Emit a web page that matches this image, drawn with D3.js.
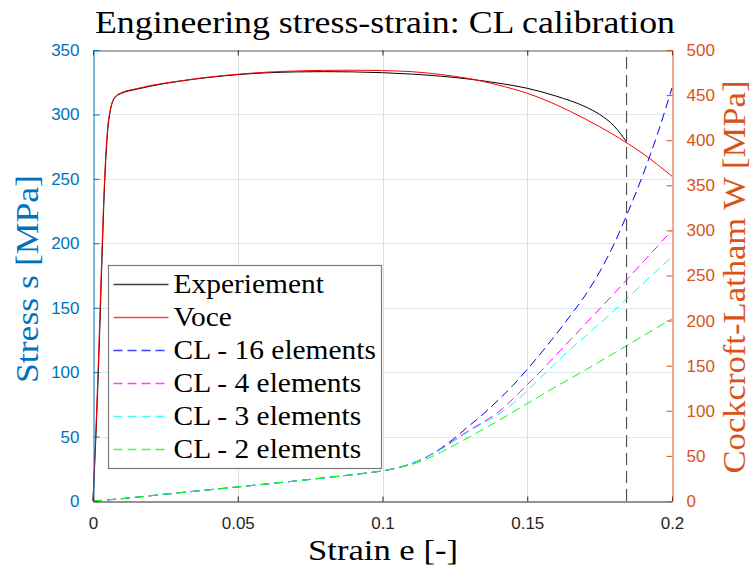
<!DOCTYPE html>
<html>
<head>
<meta charset="utf-8">
<script src="https://cdn.jsdelivr.net/npm/d3@7"></script>
<style>
  html, body { margin: 0; padding: 0; background: #fff; }
  svg { display: block; }
</style>
</head>
<body>
<svg id="chart" width="752" height="570"></svg>
<script>
// ---- Data -------------------------------------------------------------
// Engineering stress-strain curves (left axis, MPa)
const expStrain = [0,0.001,0.002,0.003,0.004,0.005,0.006,0.007,0.008,0.01,0.015,0.02,0.03,0.04,0.05,0.06,0.07,0.08,0.09,0.1,0.11,0.12,0.13,0.14,0.15,0.16,0.17,0.175,0.18,0.1843];
const expStress = [0,50,110,180,245,285,303,311,314,316.5,319.5,322,325.8,328.7,330.9,332.3,333.0,333.2,333.0,332.4,331.3,329.7,327.4,324.3,320.3,314.2,306,300,291,278.8];

const voceStrain = [0,0.001,0.002,0.003,0.004,0.005,0.006,0.007,0.008,0.01,0.015,0.02,0.03,0.04,0.05,0.06,0.07,0.08,0.09,0.1,0.11,0.12,0.13,0.14,0.15,0.16,0.17,0.18,0.19,0.2];
const voceStress = [0,55,118,188,250,288,304,311.5,314.5,317,320,322.5,326,329,331.2,332.8,333.7,334.2,334.3,334.0,333.2,331.0,327.8,322.8,316.4,307.5,296.5,284,269.5,252];

// Cockcroft-Latham damage integral W (right axis, MPa)
const clStrain = [0,0.01,0.02,0.03,0.04,0.05,0.06,0.07,0.08,0.09,0.095,0.1,0.105,0.11,0.115,0.12,0.125,0.13,0.135,0.14,0.145,0.15,0.155,0.16,0.165,0.17,0.175,0.18,0.185,0.19,0.195,0.2];
const cl16 = [0,2.6,5.9,9.2,12.4,15.6,18.9,22.2,25.7,29.3,31.2,33.4,36.6,41.5,48.5,58,70,83.5,97,112,128,146,165,185,206,228,254,285,322,362,407,458];
const cl4  = [0,2.6,5.9,9.2,12.4,15.6,18.9,22.2,25.7,29.3,31.2,33.4,36.6,41.5,48.3,57.2,68,78.5,88,98.5,113,129,145,162,179,196,213,230,247.5,265,282.5,300];
const cl3  = [0,2.6,5.9,9.2,12.4,15.6,18.9,22.2,25.7,29.3,31.2,33.4,36.6,41.5,48.3,57,67.2,77.5,86.5,96,108,122,138,153.5,168.5,182.5,196.5,211,226,241,256,271];
const cl2  = [0,2.6,5.9,9.2,12.4,15.6,18.9,22.2,25.7,29.3,31.2,33.3,36.3,40.3,46.3,53.8,62.3,71,80,89,98.5,108,117.5,127,136,145,154.5,164,173.5,183,192.5,202];

// Strain at fracture (experiment end)
const fractureStrain = 0.1843;

const xTicks = [0, 0.05, 0.1, 0.15, 0.2];
const xTickLabels = ["0", "0.05", "0.1", "0.15", "0.2"];
const leftTicks = [0, 50, 100, 150, 200, 250, 300, 350];
const rightTicks = [0, 50, 100, 150, 200, 250, 300, 350, 400, 450, 500];

const legendLabels = ["Experiement", "Voce", "CL - 16 elements", "CL - 4 elements", "CL - 3 elements", "CL - 2 elements"];

// ---- Styling ------------------------------------------------------------
const BLUE_AX = "#0072BD";
const ORANGE_AX = "#D95319";
const AX_DARK = "#262626";
const SERIF = "'Liberation Serif', 'DejaVu Serif', serif";
const SANS = "'Liberation Sans', Arial, Helvetica, sans-serif";
const CM_STRETCH = 1.09; // widen Times-like glyphs toward Computer Modern proportions

const series = [
  { name: legendLabels[0], x: expStrain, y: expStress, axis: "left", color: "#000000", dash: null },
  { name: legendLabels[1], x: voceStrain, y: voceStress, axis: "left", color: "#ff0000", dash: null },
  { name: legendLabels[2], x: clStrain, y: cl16, axis: "right", color: "#0000ff", dash: "9,5" },
  { name: legendLabels[3], x: clStrain, y: cl4, axis: "right", color: "#ff00ff", dash: "9,5" },
  { name: legendLabels[4], x: clStrain, y: cl3, axis: "right", color: "#00ffff", dash: "9,5" },
  { name: legendLabels[5], x: clStrain, y: cl2, axis: "right", color: "#00ff00", dash: "9,5" }
];

// ---- Layout ---------------------------------------------------------------
const plot = { left: 93, right: 672, top: 50, bottom: 501 };

const svg = d3.select("#chart");

const x = d3.scaleLinear().domain([0, 0.2]).range([plot.left, plot.right]);
const yL = d3.scaleLinear().domain([0, 350]).range([plot.bottom, plot.top]);
const yR = d3.scaleLinear().domain([0, 500]).range([plot.bottom, plot.top]);

// Grid
const grid = svg.append("g");
grid.selectAll("line.vgrid")
  .data(xTicks.filter(t => t > 0 && t < 0.2))
  .join("line")
  .attr("x1", d => Math.round(x(d)) + 0.5).attr("x2", d => Math.round(x(d)) + 0.5)
  .attr("y1", plot.top).attr("y2", plot.bottom)
  .attr("stroke", "#dfdfdf").attr("stroke-width", 1);
grid.selectAll("line.hgrid")
  .data(leftTicks.filter(t => t > 0 && t < 350))
  .join("line")
  .attr("x1", plot.left).attr("x2", plot.right)
  .attr("y1", d => Math.round(yL(d)) + 0.5).attr("y2", d => Math.round(yL(d)) + 0.5)
  .attr("stroke", "#dbe9f5").attr("stroke-width", 1);

// Curves
const lineGen = ys => d3.line()
  .x(d => x(d[0]))
  .y(d => ys(d[1]))
  .curve(d3.curveMonotoneX);

const curves = svg.append("g").attr("fill", "none");
series.forEach(s => {
  const ys = s.axis === "left" ? yL : yR;
  const pts = s.x.map((v, i) => [v, s.y[i]]);
  curves.append("path")
    .datum(pts)
    .attr("d", lineGen(ys))
    .attr("stroke", s.color)
    .attr("stroke-width", 1)
    .attr("stroke-dasharray", s.dash);
});

// Fracture strain marker
curves.append("line")
  .attr("x1", x(fractureStrain)).attr("x2", x(fractureStrain))
  .attr("y1", yR(0)).attr("y2", yR(500))
  .attr("stroke", "#4a4a4a").attr("stroke-width", 1.1)
  .attr("stroke-dasharray", "12,6");

// ---- Axes -----------------------------------------------------------------
const axisG = svg.append("g");

// bottom
const xAxis = d3.axisBottom(x).tickValues(xTicks)
  .tickFormat((d, i) => xTickLabels[i]).tickSizeInner(-5).tickSizeOuter(0).tickPadding(15);
const gx = axisG.append("g").attr("transform", `translate(0,${plot.bottom + 0.5})`).call(xAxis);
gx.select(".domain").attr("stroke", AX_DARK);
gx.selectAll(".tick line").attr("stroke", AX_DARK);
gx.selectAll(".tick text").attr("fill", AX_DARK)
  .style("font-family", SANS).style("font-size", "17px");

// top (box edge with ticks)
const xTop = d3.axisTop(x).tickValues(xTicks).tickFormat("").tickSizeInner(-5).tickSizeOuter(0);
const gxt = axisG.append("g").attr("transform", `translate(0,${plot.top + 0.5})`).call(xTop);
gxt.select(".domain").attr("stroke", "#5a5a5a");
gxt.selectAll(".tick line").attr("stroke", AX_DARK);

// left
const yAxisL = d3.axisLeft(yL).tickValues(leftTicks).tickSizeInner(-6).tickSizeOuter(0).tickPadding(14);
const gyl = axisG.append("g").attr("transform", `translate(${plot.left + 0.5},0)`).call(yAxisL);
gyl.select(".domain").attr("stroke", BLUE_AX);
gyl.selectAll(".tick line").attr("stroke", BLUE_AX);
gyl.selectAll(".tick text").attr("fill", BLUE_AX)
  .style("font-family", SANS).style("font-size", "17px");

// right
const yAxisR = d3.axisRight(yR).tickValues(rightTicks).tickSizeInner(-6).tickSizeOuter(0).tickPadding(14);
const gyr = axisG.append("g").attr("transform", `translate(${plot.right + 0.5},0)`).call(yAxisR);
gyr.select(".domain").attr("stroke", ORANGE_AX);
gyr.selectAll(".tick line").attr("stroke", ORANGE_AX);
gyr.selectAll(".tick text").attr("fill", ORANGE_AX)
  .style("font-family", SANS).style("font-size", "17px");

// ---- Serif (LaTeX-style) text ----------------------------------------------
function serifText(g, str, size, color, width) {
  const t = g.append("text")
    .text(str)
    .attr("fill", color)
    .style("font-family", SERIF)
    .style("font-size", size + "px");
  const w = width || t.node().getComputedTextLength() * CM_STRETCH;
  t.attr("textLength", w).attr("lengthAdjust", "spacingAndGlyphs");
  return t;
}

// Title
serifText(svg.append("g").attr("transform", `translate(385,33)`),
  "Engineering stress-strain: CL calibration", 32, "#000", 580).attr("text-anchor", "middle");

// X label
serifText(svg.append("g").attr("transform", `translate(383,560)`),
  "Strain e [-]", 30, "#000", 150).attr("text-anchor", "middle");

// Left Y label
serifText(svg.append("g").attr("transform", `translate(38,279) rotate(-90)`),
  "Stress s [MPa]", 31, BLUE_AX, 208).attr("text-anchor", "middle");

// Right Y label
serifText(svg.append("g").attr("transform", `translate(745,277) rotate(-90)`),
  "Cockcroft-Latham W [MPa]", 31, ORANGE_AX, 393).attr("text-anchor", "middle");

// ---- Legend -----------------------------------------------------------------
const legend = svg.append("g").attr("transform", "translate(108.5,265.5)");
legend.append("rect")
  .attr("width", 273).attr("height", 203)
  .attr("fill", "#fff").attr("stroke", "#7a7a7a").attr("stroke-width", 1.2);

series.forEach((s, i) => {
  const cy = 19 + i * 33;
  legend.append("line")
    .attr("x1", 5).attr("x2", 60)
    .attr("y1", cy).attr("y2", cy)
    .attr("stroke", s.color).attr("stroke-width", 1.3)
    .attr("stroke-opacity", 0.75)
    .attr("stroke-dasharray", s.dash);
  serifText(legend.append("g").attr("transform", `translate(65,${cy + 8})`), s.name, 27, "#000");
});
</script>
</body>
</html>
